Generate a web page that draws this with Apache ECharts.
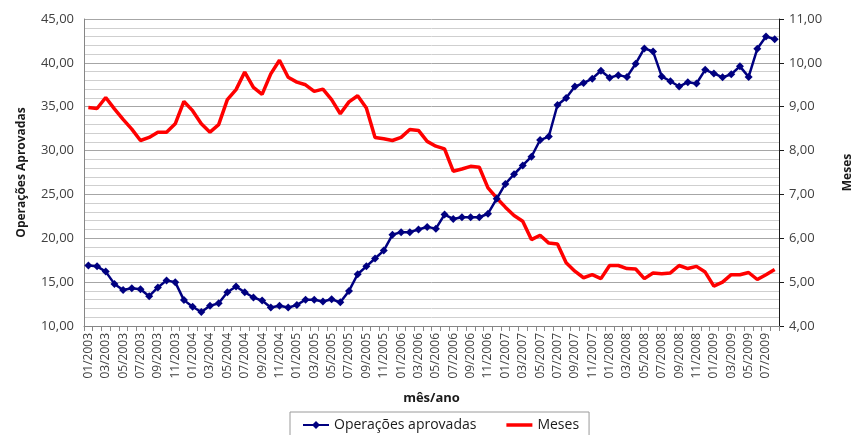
<!DOCTYPE html>
<html>
<head>
<meta charset="utf-8">
<script src="https://cdn.jsdelivr.net/npm/echarts@6/dist/echarts.min.js"></script>
<style>
html,body{margin:0;padding:0;background:#fff;}
#chart{width:862px;height:435px;}
</style>
</head>
<body>
<div id="chart"></div>
<script>
// Categories: monthly 01/2003 .. 08/2009
const years = [2003, 2004, 2005, 2006, 2007, 2008, 2009];
const categories = [];
years.forEach(function (y) {
  for (let m = 1; m <= 12; m++) {
    if (y === 2009 && m > 8) break;
    categories.push((m < 10 ? '0' + m : '' + m) + '/' + y);
  }
});

const operacoesAprovadas = [
  16.9, 16.8, 16.2, 14.8, 14.1, 14.3, 14.2, 13.4, 14.4, 15.2, 15.0, 12.95,
  12.2, 11.6, 12.3, 12.6, 13.85, 14.5, 13.85, 13.25, 12.9, 12.1, 12.3, 12.1,
  12.4, 13.0, 13.0, 12.8, 13.05, 12.7, 14.0, 15.9, 16.8, 17.7, 18.6, 20.4,
  20.7, 20.7, 21.0, 21.3, 21.1, 22.7, 22.2, 22.4, 22.4, 22.4, 22.8, 24.5,
  26.2, 27.3, 28.3, 29.3, 31.2, 31.6, 35.2, 36.0, 37.3, 37.7, 38.2, 39.1,
  38.3, 38.6, 38.4, 39.9, 41.65, 41.3, 38.45, 37.9, 37.3, 37.8, 37.65, 39.2,
  38.8, 38.35, 38.7, 39.6, 38.4, 41.6, 43.0, 42.7
];

const meses = [
  8.98, 8.96, 9.21, 8.95, 8.71, 8.49, 8.23, 8.30, 8.42, 8.42, 8.61, 9.12,
  8.91, 8.61, 8.42, 8.59, 9.16, 9.39, 9.79, 9.44, 9.28, 9.75, 10.06, 9.67,
  9.56, 9.50, 9.35, 9.40, 9.16, 8.84, 9.11, 9.25, 8.97, 8.30, 8.27, 8.23,
  8.30, 8.48, 8.46, 8.21, 8.10, 8.04, 7.53, 7.58, 7.64, 7.62, 7.15, 6.92,
  6.71, 6.52, 6.39, 5.97, 6.07, 5.89, 5.87, 5.44, 5.25, 5.10, 5.17, 5.08,
  5.38, 5.38, 5.31, 5.30, 5.08, 5.21, 5.19, 5.21, 5.38, 5.31, 5.36, 5.23,
  4.91, 5.00, 5.17, 5.17, 5.22, 5.06, 5.17, 5.29
];

const seriesNames = ['Operações aprovadas', 'Meses'];
const axisNames = ['Operações Aprovadas', 'Meses', 'mês/ano'];

function fmt(v) { return v.toFixed(2).replace('.', ','); }

const FONT = 'Open Sans';
const chart = echarts.init(document.getElementById('chart'), null, {renderer: 'canvas'});
chart.setOption({
  animation: false,
  backgroundColor: '#ffffff',
  textStyle: {fontFamily: FONT},
  grid: {left: 84, right: 70, top: 19, bottom: 109, containLabel: false},
  legend: {
    left: 290, top: 412,
    padding: [6, 10, 6, 12],
    borderColor: '#9a9a9a', borderWidth: 1,
    itemWidth: 26, itemHeight: 10, itemGap: 30,
    textStyle: {fontFamily: FONT, fontSize: 14, color: '#1a1a1a'},
    data: [
      {name: seriesNames[0]},
      {name: seriesNames[1], icon: 'path://M0,0 L26,0 L26,3.5 L0,3.5 Z', itemStyle: {color: '#ff0000'}}
    ]
  },
  xAxis: {
    type: 'category',
    data: categories,
    boundaryGap: true,
    name: axisNames[2],
    nameLocation: 'middle',
    nameGap: 66,
    nameTextStyle: {fontFamily: FONT, fontSize: 13, fontWeight: 'bold', color: '#1a1a1a'},
    axisLine: {lineStyle: {color: '#868686', width: 1}},
    axisTick: {show: true, interval: 0, length: 5, lineStyle: {color: '#868686'}},
    axisLabel: {interval: 1, rotate: 90, fontSize: 12, color: '#404040', margin: 7, fontFamily: FONT},
    splitLine: {show: false}
  },
  yAxis: [{
    type: 'value',
    min: 10, max: 45, interval: 5,
    name: axisNames[0],
    nameLocation: 'middle',
    nameGap: 56,
    nameRotate: 90,
    nameTextStyle: {fontFamily: FONT, fontSize: 12, fontWeight: 'bold', color: '#1a1a1a'},
    axisLine: {show: true, lineStyle: {color: '#868686'}},
    axisTick: {show: false},
    axisLabel: {formatter: fmt, fontSize: 13, color: '#404040', margin: 10, fontFamily: FONT},
    splitLine: {show: true, lineStyle: {color: '#a6a6a6', width: 1}},
    minorTick: {show: false, splitNumber: 5},
    minorSplitLine: {show: true, lineStyle: {color: '#cfcfcf', width: 1}}
  }, {
    type: 'value',
    min: 4, max: 11, interval: 1,
    position: 'right',
    name: axisNames[1],
    nameLocation: 'middle',
    nameGap: 63,
    nameRotate: 90,
    nameTextStyle: {fontFamily: FONT, fontSize: 12, fontWeight: 'bold', color: '#1a1a1a'},
    axisLine: {show: true, lineStyle: {color: '#1a1a1a'}},
    axisTick: {show: true, length: 5, inside: false, lineStyle: {color: '#1a1a1a'}},
    axisLabel: {formatter: fmt, fontSize: 13, color: '#404040', margin: 10, fontFamily: FONT},
    splitLine: {show: false}
  }],
  series: [{
    name: seriesNames[0],
    type: 'line',
    yAxisIndex: 0,
    data: operacoesAprovadas,
    color: '#000080',
    lineStyle: {color: '#000080', width: 2.5},
    itemStyle: {color: '#000080'},
    symbol: 'diamond',
    symbolSize: 8,
    showSymbol: true,
    showAllSymbol: true,
    z: 3
  }, {
    name: seriesNames[1],
    type: 'line',
    yAxisIndex: 1,
    data: meses,
    color: '#ff0000',
    lineStyle: {color: '#ff0000', width: 3.5},
    itemStyle: {color: '#ff0000'},
    symbol: 'none',
    z: 2
  }]
});
</script>
</body>
</html>
